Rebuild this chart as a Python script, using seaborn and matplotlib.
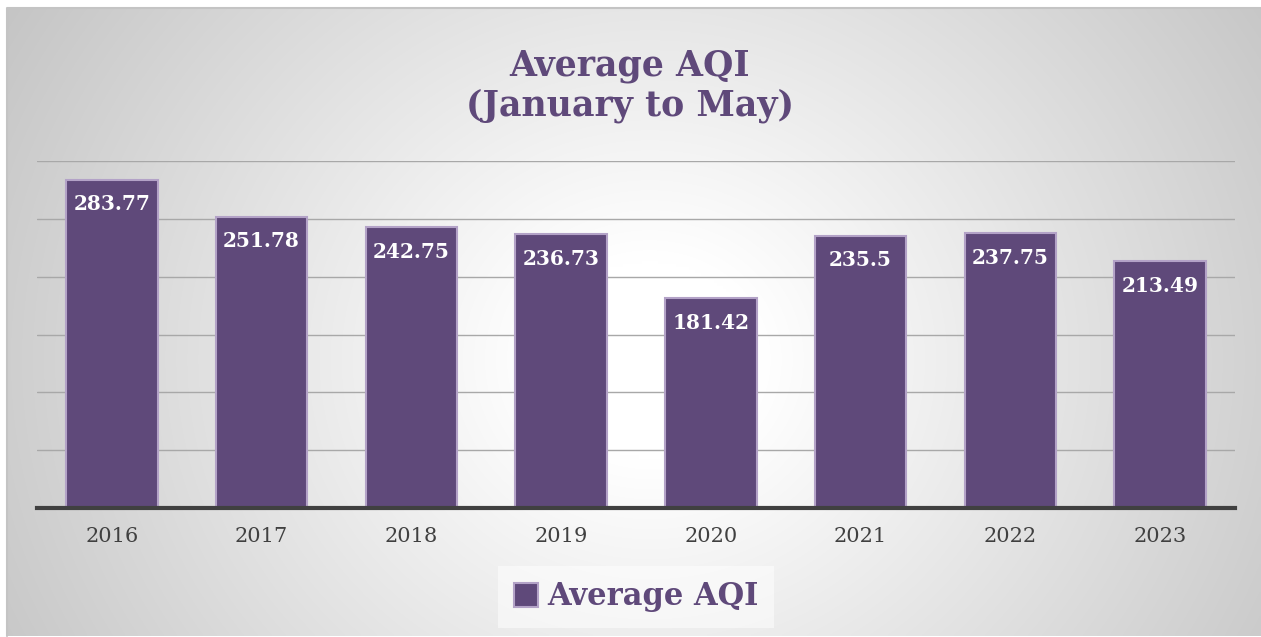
import matplotlib

matplotlib.use("Agg")
import matplotlib.pyplot as plt
import numpy as np
import pandas as pd
import seaborn as sns
from matplotlib.patches import Patch

# --- data ------------------------------------------------------------------
years = ["2016", "2017", "2018", "2019", "2020", "2021", "2022", "2023"]
avg_aqi = [283.77, 251.78, 242.75, 236.73, 181.42, 235.5, 237.75, 213.49]
value_labels = ["283.77", "251.78", "242.75", "236.73", "181.42", "235.5", "237.75", "213.49"]
y_ticks = [0, 50, 100, 150, 200, 250, 300]

PURPLE = "#5F497A"
EDGE = "#B3A2C7"
W, H = 1261, 637

sns.set_theme(style="white")
plt.rcParams["font.family"] = ["DejaVu Serif"]

fig = plt.figure(figsize=(W / 100, H / 100), dpi=100)
fig.patch.set_facecolor("white")

# radial grey-to-white background of the chart frame
bg = fig.add_axes([7 / W, 1 / H, 1 - 7 / W, 1 - 9 / H], zorder=0)
gx, gy = np.meshgrid(np.linspace(7, W, 400), np.linspace(8, 636, 200))
r = np.hypot(gx - 650, (gy - 360) * 1.1)
shade = np.clip(1.0 - 0.22 * np.clip((r - 110) / 620, 0, 1.2), 0, 1)
bg.imshow(np.dstack([shade] * 3), aspect="auto", extent=(0, 1, 0, 1), interpolation="bilinear")
bg.plot([0, 0, 1], [0, 1, 1], transform=bg.transAxes, color="#c4c4c4", lw=1.5, clip_on=False)
bg.set_axis_off()

df = pd.DataFrame({"year": years, "aqi": avg_aqi})

ax = fig.add_axes([37 / W, (H - 508) / H, (1235 - 37) / W, (508 - 161) / H], zorder=1)
ax.patch.set_alpha(0)
sns.barplot(data=df, x="year", y="aqi", color=PURPLE, saturation=1, width=0.61,
            edgecolor=EDGE, linewidth=1.5, ax=ax, zorder=3)
ax.bar_label(ax.containers[0], labels=value_labels, label_type="edge", padding=-25,
             color="white", fontsize=14.5, fontweight="bold")

ax.set_ylim(0, 300)
ax.set_xlim(-0.5, len(years) - 0.5)
ax.set_yticks(y_ticks)
ax.set_yticklabels([])
ax.yaxis.grid(True, color="#a8a8a8", lw=1)
ax.set_axisbelow(True)
ax.set_xlabel("")
ax.set_ylabel("")
for side in ["left", "right", "top"]:
    ax.spines[side].set_visible(False)
ax.spines["bottom"].set_color("#404040")
ax.spines["bottom"].set_linewidth(3)
ax.spines["bottom"].set_zorder(5)
ax.tick_params(axis="x", length=0, pad=14, labelsize=15, labelcolor="#404040")
ax.tick_params(axis="y", length=0)

fig.text(0.4996, 1 - 86 / H, "Average AQI\n(January to May)", ha="center", va="center",
         fontsize=25, fontweight="bold", color=PURPLE, linespacing=1.2)

handle = Patch(facecolor=PURPLE, edgecolor=EDGE, linewidth=1.5)
leg = fig.legend([handle], ["Average AQI"], loc="center", bbox_to_anchor=(636 / W, 1 - 597 / H),
                 frameon=True, fancybox=False, handlelength=0.8, handleheight=0.8,
                 handletextpad=0.3, borderpad=0.5, borderaxespad=0,
                 prop={"size": 22, "weight": "bold"})
leg.get_frame().set_facecolor("white")
leg.get_frame().set_alpha(0.5)
leg.get_frame().set_edgecolor("none")
for t in leg.get_texts():
    t.set_color(PURPLE)

fig.savefig("out.png", dpi=100)
